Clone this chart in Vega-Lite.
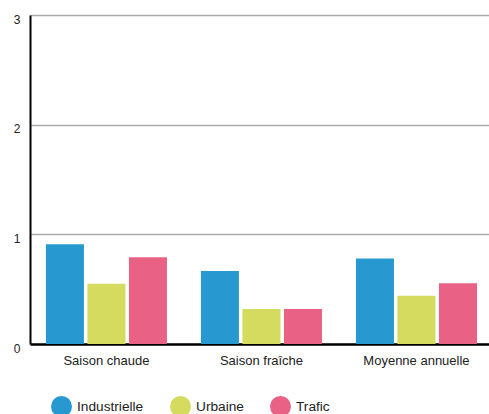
{
  "$schema": "https://vega.github.io/schema/vega-lite/v6.json",
  "autosize": "none",
  "padding": {"left": 30, "top": 15, "right": 0, "bottom": 70},
  "width": 459,
  "height": 329,
  "background": "white",
  "config": {
    "view": {"stroke": null},
    "font": "Liberation Sans"
  },
  "data": {
    "values": [
      {"periode": "Saison chaude", "type": "Industrielle", "valeur": 0.91},
      {"periode": "Saison chaude", "type": "Urbaine", "valeur": 0.55},
      {"periode": "Saison chaude", "type": "Trafic", "valeur": 0.79},
      {"periode": "Saison fraîche", "type": "Industrielle", "valeur": 0.665},
      {"periode": "Saison fraîche", "type": "Urbaine", "valeur": 0.32},
      {"periode": "Saison fraîche", "type": "Trafic", "valeur": 0.32},
      {"periode": "Moyenne annuelle", "type": "Industrielle", "valeur": 0.78},
      {"periode": "Moyenne annuelle", "type": "Urbaine", "valeur": 0.44},
      {"periode": "Moyenne annuelle", "type": "Trafic", "valeur": 0.555}
    ]
  },
  "mark": {"type": "bar"},
  "encoding": {
    "x": {
      "field": "periode",
      "type": "nominal",
      "sort": ["Saison chaude", "Saison fraîche", "Moyenne annuelle"],
      "scale": {"paddingInner": 0.219, "paddingOuter": 0.09, "align": 0.57},
      "axis": {
        "title": null,
        "labelAngle": 0,
        "ticks": false,
        "domainColor": "#000000",
        "domainWidth": 2.5,
        "labelFontSize": 13,
        "labelColor": "#222222",
        "labelPadding": 10,
        "labelFont": "Liberation Sans"
      }
    },
    "xOffset": {
      "field": "type",
      "type": "nominal",
      "sort": ["Industrielle", "Urbaine", "Trafic"],
      "scale": {"paddingInner": 0.084, "paddingOuter": 0}
    },
    "y": {
      "field": "valeur",
      "type": "quantitative",
      "scale": {"domain": [0, 3], "nice": false},
      "axis": {
        "title": null,
        "values": [0, 1, 2, 3],
        "ticks": false,
        "grid": true,
        "gridColor": "#aaaaaa",
        "gridWidth": 1.5,
        "domainColor": "#000000",
        "domainWidth": 2,
        "labelFontSize": 12,
        "labelColor": "#222222",
        "labelPadding": 10,
        "labelOffset": 4,
        "labelFont": "Liberation Sans"
      }
    },
    "color": {
      "field": "type",
      "type": "nominal",
      "sort": ["Industrielle", "Urbaine", "Trafic"],
      "scale": {
        "domain": ["Industrielle", "Urbaine", "Trafic"],
        "range": ["#2899d0", "#d4db5e", "#e96185"]
      },
      "legend": {
        "title": null,
        "orient": "none",
        "direction": "horizontal",
        "legendX": 21,
        "legendY": 381,
        "symbolType": "circle",
        "symbolSize": 441,
        "symbolStrokeWidth": 0,
        "labelFontSize": 13.7,
        "labelColor": "#222222",
        "labelOffset": 5,
        "columnPadding": 26,
        "labelFont": "Liberation Sans"
      }
    }
  }
}
